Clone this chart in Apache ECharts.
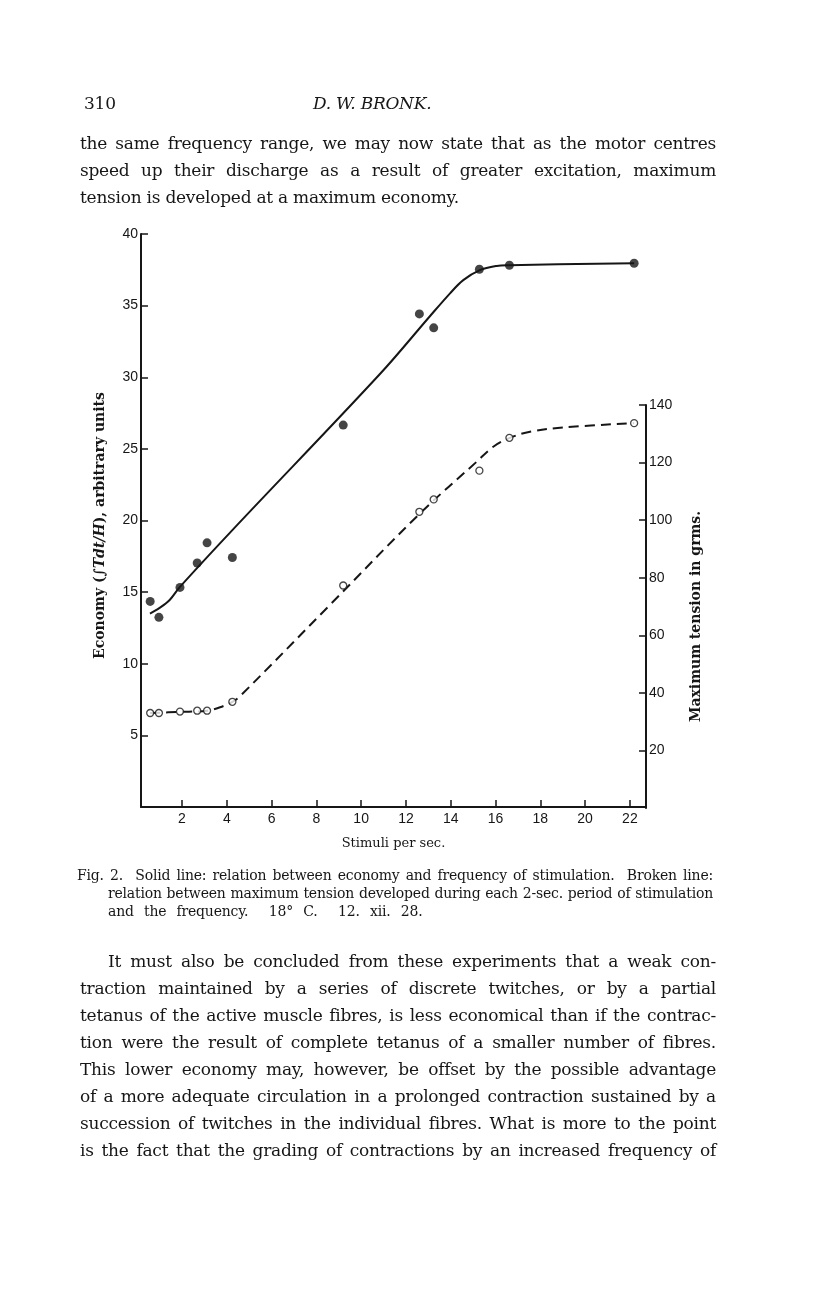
<!DOCTYPE html>
<html>
<head>
<meta charset="utf-8">
<script src="https://cdn.jsdelivr.net/npm/echarts@6/dist/echarts.min.js"></script>
<style>
  html, body { margin: 0; padding: 0; background: #fff; }
  #page { position: relative; width: 816px; height: 1296px; overflow: hidden; background: #fff; }
  #chart { position: absolute; left: 0; top: 0; width: 816px; height: 1296px; }
  .t { position: absolute; font-family: "DejaVu Serif", "Liberation Serif", serif; color: #161616;
       white-space: nowrap; line-height: 26px; height: 26px; font-size: 17px; letter-spacing: -0.25px; }
  .j { text-align: justify; text-align-last: justify; }
  .cap { font-size: 14px; line-height: 18px; height: 18px; letter-spacing: -0.2px; }
</style>
</head>
<body>
<div id="page">
  <div id="chart"></div>

  <div class="t" style="left:84px; top:90px;">310</div>
  <div class="t" style="left:313px; top:90px; font-style:italic;">D. W. BRONK.</div>

  <div class="t j" style="left:80px; width:636px; top:130px;">the same frequency range, we may now state that as the motor centres</div>
  <div class="t j" style="left:80px; width:636px; top:157px;">speed up their discharge as a result of greater excitation, maximum</div>
  <div class="t" style="left:80px; top:184px;">tension is developed at a maximum economy.</div>

  <div class="t cap j" style="left:77px; width:636px; top:866px;">Fig. 2. &nbsp;Solid line: relation between economy and frequency of stimulation. &nbsp;Broken line:</div>
  <div class="t cap j" style="left:108px; width:605px; top:884px;">relation between maximum tension developed during each 2-sec. period of stimulation</div>
  <div class="t cap" style="left:108px; top:902px; word-spacing:6px;">and the frequency. &nbsp;18° C. &nbsp;12. xii. 28.</div>

  <div class="t j" style="left:108px; width:608px; top:948px;">It must also be concluded from these experiments that a weak con-</div>
  <div class="t j" style="left:80px; width:636px; top:975px;">traction maintained by a series of discrete twitches, or by a partial</div>
  <div class="t j" style="left:80px; width:636px; top:1002px;">tetanus of the active muscle fibres, is less economical than if the contrac-</div>
  <div class="t j" style="left:80px; width:636px; top:1029px;">tion were the result of complete tetanus of a smaller number of fibres.</div>
  <div class="t j" style="left:80px; width:636px; top:1056px;">This lower economy may, however, be offset by the possible advantage</div>
  <div class="t j" style="left:80px; width:636px; top:1083px;">of a more adequate circulation in a prolonged contraction sustained by a</div>
  <div class="t j" style="left:80px; width:636px; top:1110px;">succession of twitches in the individual fibres. What is more to the point</div>
  <div class="t j" style="left:80px; width:636px; top:1137px;">is the fact that the grading of contractions by an increased frequency of</div>
</div>

<script>
// stimuli per sec. of each measured point (same for both series)
var stimuli = [0.58, 0.97, 1.91, 2.68, 3.12, 4.25, 9.2, 12.6, 13.24, 15.28, 16.62, 22.19];
// economy, arbitrary units (filled dots, left axis)
var economy = [14.35, 13.24, 15.33, 17.03, 18.44, 17.42, 26.66, 34.42, 33.45, 37.54, 37.82, 37.96];
// maximum tension in grms (open circles, right axis)
var tension = [33.0, 33.0, 33.5, 33.8, 33.8, 36.9, 77.3, 102.9, 107.2, 117.2, 128.6, 133.7];

// solid fitted curve (economy)
var solidX = [0.57, 1.0, 1.45, 1.9, 4.25, 10.86, 13.07, 13.97, 14.56, 15.3, 16.05, 16.61, 22.19];
var solidY = [13.5, 13.9, 14.45, 15.35, 19.33, 30.26, 34.26, 35.86, 36.78, 37.48, 37.77, 37.82, 37.96];

// broken fitted curve (tension)
var dashedX = [0.58, 1.91, 3.12, 3.7, 4.25, 4.6, 8.6, 12.65, 15.16, 15.9, 16.64, 17.54, 19.02, 22.19];
var dashedY = [33.0, 33.4, 33.8, 35.0, 36.9, 38.9, 70.5, 102.5, 120.3, 125.5, 128.6, 130.7, 132.2, 133.7];

var xTicks = [2, 4, 6, 8, 10, 12, 14, 16, 18, 20, 22];

var ink = '#161616';
var serif = '"DejaVu Serif", "Liberation Serif", serif';
var sans = '"Liberation Sans", Arial, sans-serif';

function pairs(xs, ys) {
  return xs.map(function (x, i) { return [x, ys[i]]; });
}

var chart = echarts.init(document.getElementById('chart'));

chart.setOption({
  animation: false,
  backgroundColor: 'transparent',
  grid: [
    { left: 141, right: 170, top: 234, bottom: 489 },
    { left: 141, right: 170, top: 405, bottom: 488 }
  ],
  xAxis: [
    {
      gridIndex: 0, type: 'value', min: 0.17, max: 22.72,
      name: 'Stimuli per sec.', nameLocation: 'middle', nameGap: 30,
      nameTextStyle: { fontFamily: serif, fontSize: 13, color: ink },
      axisLine: { onZero: false, lineStyle: { color: ink, width: 2 } },
      axisTick: { inside: true, length: 7, customValues: xTicks, lineStyle: { color: ink, width: 1.5 } },
      axisLabel: { customValues: xTicks, margin: 5, fontFamily: sans, fontSize: 14, color: ink },
      splitLine: { show: false }
    },
    { gridIndex: 1, type: 'value', min: 0.17, max: 22.72, show: false }
  ],
  yAxis: [
    {
      gridIndex: 0, type: 'value', min: 0, max: 40, interval: 5, position: 'left',
      name: '{a|Economy (∫}{i|Tdt/H}{a|), arbitrary units}',
      nameLocation: 'middle', nameGap: 34, nameRotate: 90,
      nameTextStyle: {
        padding: [0, 10, 0, 0],
        rich: {
          a: { fontFamily: serif, fontSize: 14, fontWeight: 'bold', color: ink },
          i: { fontFamily: serif, fontSize: 14, fontWeight: 'bold', fontStyle: 'italic', color: ink }
        }
      },
      axisLine: { show: true, onZero: false, lineStyle: { color: ink, width: 2 } },
      axisTick: { inside: true, length: 7, lineStyle: { color: ink, width: 1.5 } },
      axisLabel: { showMinLabel: false, margin: 3, fontFamily: sans, fontSize: 14, color: ink },
      splitLine: { show: false }
    },
    {
      gridIndex: 1, type: 'value', min: 0, max: 140, interval: 20, position: 'right',
      name: 'Maximum tension in grms.', nameLocation: 'middle', nameGap: 43, nameRotate: 90,
      nameTextStyle: { fontFamily: serif, fontSize: 14, fontWeight: 'bold', color: ink, padding: [0, 20, 0, 0] },
      axisLine: { show: true, onZero: false, lineStyle: { color: ink, width: 2 } },
      axisTick: { inside: true, length: 7, lineStyle: { color: ink, width: 1.5 } },
      axisLabel: { showMinLabel: false, margin: 3, fontFamily: sans, fontSize: 14, color: ink },
      splitLine: { show: false }
    }
  ],
  series: [
    {
      name: 'economy curve', type: 'line', xAxisIndex: 0, yAxisIndex: 0,
      data: pairs(solidX, solidY), showSymbol: false, smooth: 0.35,
      lineStyle: { color: ink, width: 2 }
    },
    {
      name: 'economy', type: 'scatter', xAxisIndex: 0, yAxisIndex: 0,
      data: pairs(stimuli, economy), symbol: 'circle', symbolSize: 9,
      itemStyle: { color: ink }, z: 4
    },
    {
      name: 'tension curve', type: 'line', xAxisIndex: 1, yAxisIndex: 1,
      data: pairs(dashedX, dashedY), showSymbol: false, smooth: 0.35,
      lineStyle: { color: ink, width: 2, type: [10, 6] }
    },
    {
      name: 'tension', type: 'scatter', xAxisIndex: 1, yAxisIndex: 1,
      data: pairs(stimuli, tension), symbol: 'circle', symbolSize: 7,
      itemStyle: { color: '#fff', borderColor: ink, borderWidth: 1.3 }, z: 4
    }
  ]
});
</script>
</body>
</html>
